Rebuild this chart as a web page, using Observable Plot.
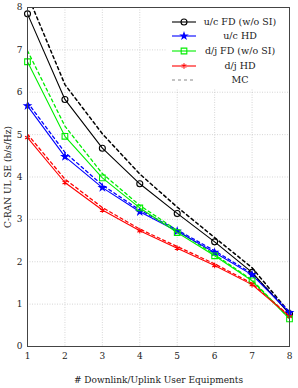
<!DOCTYPE html>
<html>
<head>
<meta charset="utf-8">
<script src="https://cdn.jsdelivr.net/npm/d3@7"></script>
<script src="https://cdn.jsdelivr.net/npm/@observablehq/plot@0.6"></script>
<style>
  html, body { margin: 0; padding: 0; background: #fff; }
  svg { display: block; }
</style>
</head>
<body>
<div id="chart"></div>
<script>
const ues = [1, 2, 3, 4, 5, 6, 7, 8];
const ucFD   = [7.85, 5.83, 4.68, 3.84, 3.14, 2.47, 1.75, 0.77];
const ucFDmc = [8.30, 6.18, 5.02, 4.07, 3.29, 2.57, 1.86, 0.80];
const ucHD   = [5.68, 4.48, 3.75, 3.18, 2.72, 2.22, 1.69, 0.80];
const ucHDmc = [5.76, 4.58, 3.81, 3.22, 2.75, 2.26, 1.72, 0.82];
const djFD   = [6.72, 4.96, 3.98, 3.27, 2.69, 2.14, 1.55, 0.65];
const djFDmc = [6.98, 5.20, 4.08, 3.33, 2.74, 2.17, 1.57, 0.66];
const djHD   = [4.93, 3.87, 3.22, 2.73, 2.32, 1.91, 1.46, 0.71];
const djHDmc = [5.01, 3.95, 3.28, 2.77, 2.36, 1.95, 1.49, 0.72];
const xTicks = [1, 2, 3, 4, 5, 6, 7, 8];
const yTicks = [0, 1, 2, 3, 4, 5, 6, 7, 8];
const legendLabels = ["u/c FD (w/o SI)", "u/c HD", "d/j FD (w/o SI)", "d/j HD", "MC"];

const rows = (ys) => ues.map((x, i) => ({x, y: ys[i]}));
const font = "'DejaVu Serif', 'Liberation Serif', serif";

const series = [
  {sim: ucFD, mc: ucFDmc, color: "#000000", symbol: "circle", fill: "none", r: 3},
  {sim: ucHD, mc: ucHDmc, color: "#0000ff", symbol: "star", fill: "#0000ff", r: 2},
  {sim: djFD, mc: djFDmc, color: "#00ee00", symbol: "square", fill: "none", r: 3.2},
  {sim: djHD, mc: djHDmc, color: "#ff0000", symbol: "asterisk", fill: "none", r: 2.6}
];

const marks = [
  Plot.gridX(xTicks, {stroke: "#bbb", strokeOpacity: 1, strokeWidth: 0.6, strokeDasharray: "1,1.5"}),
  Plot.gridY(yTicks, {stroke: "#bbb", strokeOpacity: 1, strokeWidth: 0.6, strokeDasharray: "1,1.5"})
];
for (const s of series) {
  marks.push(Plot.line(rows(s.mc), {x: "x", y: "y", stroke: s.color, strokeWidth: s.color === "#000000" ? 1.5 : 1.3, strokeDasharray: "3,3", clip: true}));
}
for (const s of series) {
  marks.push(Plot.line(rows(s.sim), {x: "x", y: "y", stroke: s.color, strokeWidth: 1.1}));
  marks.push(Plot.dot(rows(s.sim), {x: "x", y: "y", symbol: s.symbol, r: s.r, stroke: s.color, fill: s.fill, strokeWidth: 1.1}));
}
marks.push(Plot.frame({stroke: "#444", strokeWidth: 1}));
marks.push(Plot.axisX(xTicks, {tickSize: 0, tickPadding: 6, fontSize: 9, fontFamily: font, label: "# Downlink/Uplink User Equipments", labelAnchor: "center", labelOffset: 36, labelArrow: "none"}));
marks.push(Plot.axisY(yTicks, {tickSize: 0, tickPadding: 5, fontSize: 9, fontFamily: font, label: "C-RAN UL SE (b/s/Hz)", labelAnchor: "center", labelOffset: 23, labelArrow: "none"}));

const chart = Plot.plot({
  width: 298,
  height: 388,
  marginLeft: 27,
  marginRight: 9,
  marginTop: 7,
  marginBottom: 42,
  style: {fontFamily: font, fontSize: "9.5px", background: "#fff", color: "#222"},
  x: {domain: [1, 8]},
  y: {domain: [0, 8]},
  marks
});
document.getElementById("chart").appendChild(chart);

// Legend (north-east, inside the frame)
const svg = d3.select(chart);
const lg = svg.append("g");
lg.append("rect").attr("x", 166).attr("y", 8).attr("width", 122).attr("height", 80).attr("fill", "#fff");
const legendItems = [
  {color: "#000000", symbol: d3.symbolCircle, fill: "none", size: 28, dash: null},
  {color: "#0000ff", symbol: d3.symbolStar, fill: "#0000ff", size: 12, dash: null},
  {color: "#00ee00", symbol: d3.symbolSquare, fill: "none", size: 32, dash: null},
  {color: "#ff0000", symbol: d3.symbolAsterisk, fill: "none", size: 20, dash: null},
  {color: "#888", symbol: null, fill: "none", size: 0, dash: "3,3"}
];
const ys = [22, 36, 51, 66, 80];
legendLabels.forEach((lab, i) => {
  const it = legendItems[i];
  const y = ys[i];
  const g = lg.append("g");
  g.append("line").attr("x1", 172).attr("x2", 196).attr("y1", y).attr("y2", y)
    .attr("stroke", it.color).attr("stroke-width", 1.1)
    .attr("stroke-dasharray", it.dash);
  if (it.symbol) {
    g.append("path").attr("d", d3.symbol(it.symbol, it.size)()).attr("transform", `translate(184,${y})`)
      .attr("stroke", it.color).attr("fill", it.fill).attr("stroke-width", 1.1);
  }
  g.append("text").attr("x", 240).attr("y", y).attr("dy", "0.35em").attr("text-anchor", "middle")
    .attr("font-family", font).attr("font-size", 9.5).attr("fill", "#222").text(lab);
});
</script>
</body>
</html>
